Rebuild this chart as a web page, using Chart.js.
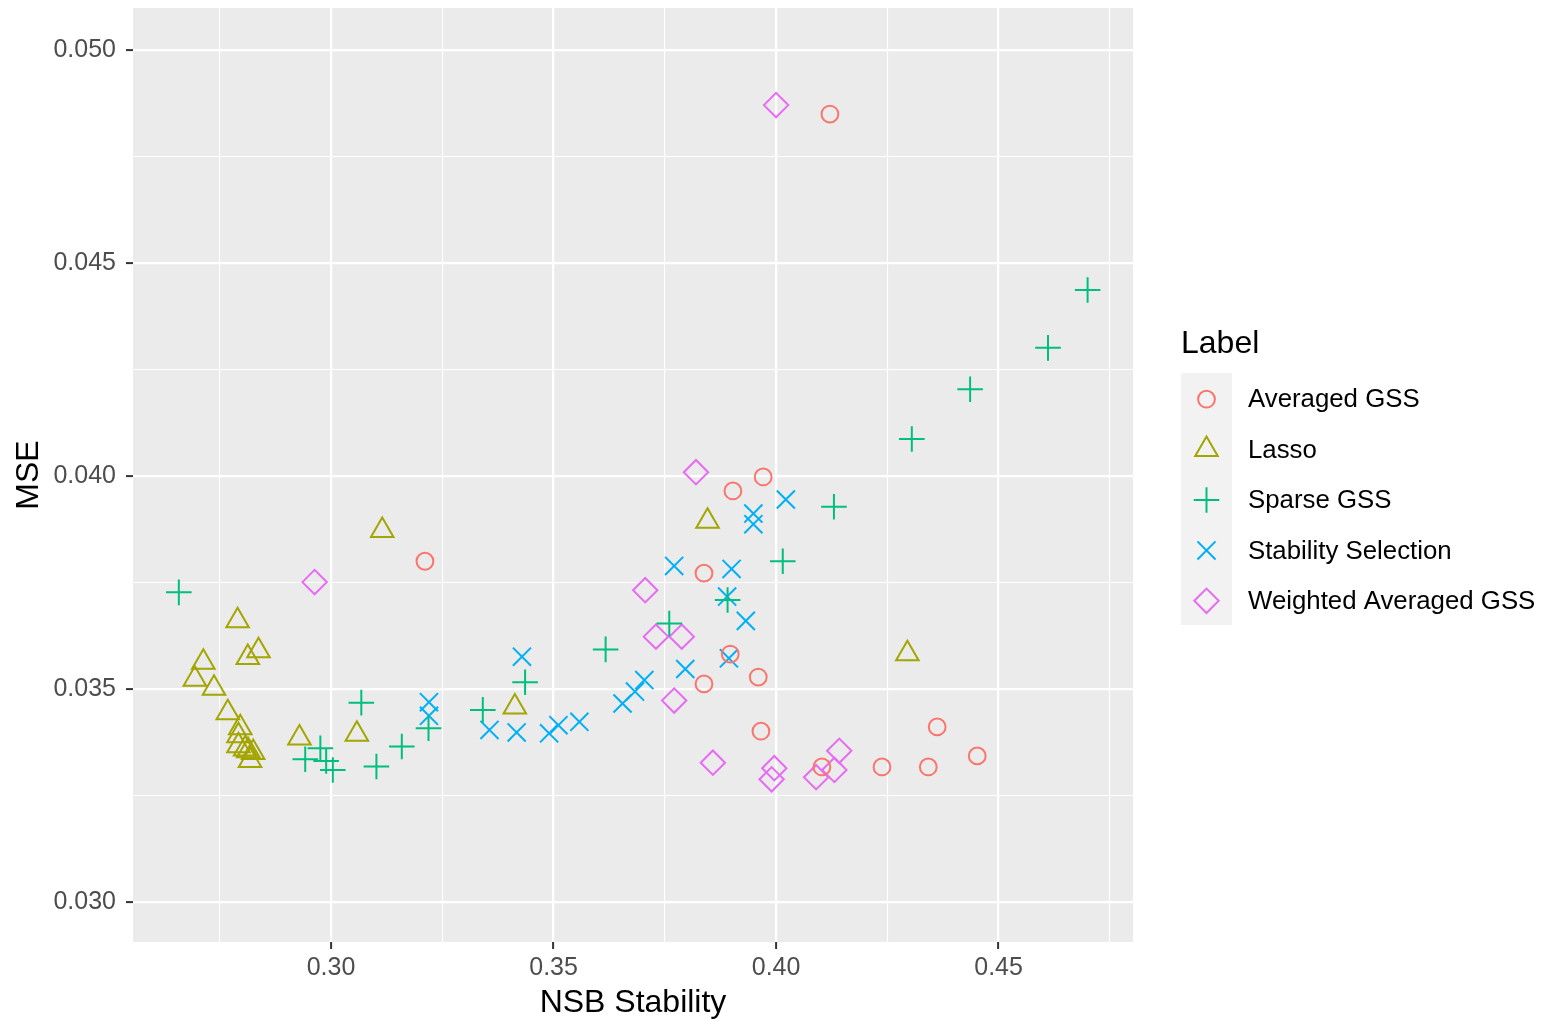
<!DOCTYPE html>
<html>
<head>
<meta charset="utf-8">
<script src="https://cdn.jsdelivr.net/npm/chart.js@4.4.1/dist/chart.umd.min.js"></script>
<style>
  html, body { margin: 0; padding: 0; background: #ffffff; }
  #wrap { width: 1547px; height: 1021px; }
</style>
</head>
<body>
<div id="wrap"><canvas id="plot" width="1547" height="1021"></canvas></div>
<script>
const FONT = "'Liberation Sans', Arial, Helvetica, sans-serif";

// NSB stability (x) and MSE (y) per method
const averagedX = [0.4121, 0.3211, 0.3971, 0.3903, 0.3838, 0.3897, 0.3838, 0.3960, 0.3966, 0.4103, 0.4238, 0.4342, 0.4362, 0.4452];
const averagedY = [0.04850, 0.03800, 0.03998, 0.03965, 0.03772, 0.03582, 0.03512, 0.03528, 0.03401, 0.03317, 0.03317, 0.03317, 0.03411, 0.03343];

const lassoX = [0.3115, 0.2790, 0.2713, 0.2694, 0.2737, 0.2813, 0.2837, 0.2768, 0.2929, 0.3058,
                0.2796, 0.2792, 0.2792, 0.2807, 0.2814, 0.2825, 0.2818, 0.3846, 0.3413, 0.4295];
const lassoY = [0.03872, 0.03660, 0.03563, 0.03523, 0.03502, 0.03574, 0.03590, 0.03444, 0.03385, 0.03394,
                0.03409, 0.03390, 0.03367, 0.03359, 0.03355, 0.03351, 0.03332, 0.03894, 0.03458, 0.03583];

const sparseX = [0.2658, 0.3068, 0.2942, 0.2976, 0.2989, 0.3004, 0.3102, 0.3159, 0.3219, 0.3341,
                 0.3436, 0.3617, 0.3760, 0.3891, 0.4015, 0.4130, 0.4305, 0.4436, 0.4611, 0.4700];
const sparseY = [0.03727, 0.03468, 0.03335, 0.03361, 0.03331, 0.03310, 0.03318, 0.03365, 0.03408, 0.03451,
                 0.03516, 0.03593, 0.03654, 0.03709, 0.03800, 0.03928, 0.04087, 0.04204, 0.04301, 0.04437];

const stabilityX = [0.3220, 0.3220, 0.3429, 0.3356, 0.3417, 0.3490, 0.3511, 0.3558, 0.3655, 0.3683,
                    0.3704, 0.3796, 0.3771, 0.3900, 0.3890, 0.3932, 0.3894, 0.3949, 0.3949, 0.4022];
const stabilityY = [0.03469, 0.03437, 0.03576, 0.03404, 0.03398, 0.03396, 0.03415, 0.03423, 0.03466, 0.03494,
                    0.03521, 0.03547, 0.03789, 0.03782, 0.03717, 0.03660, 0.03572, 0.03912, 0.03887, 0.03945];

const weightedX = [0.4000, 0.2963, 0.3820, 0.3706, 0.3730, 0.3788, 0.3771, 0.3858, 0.3996, 0.3990, 0.4090, 0.4131, 0.4142];
const weightedY = [0.04871, 0.03751, 0.04009, 0.03732, 0.03623, 0.03623, 0.03473, 0.03327, 0.03314, 0.03288, 0.03293, 0.03310, 0.03355];

const seriesLabels = ['Averaged GSS', 'Lasso', 'Sparse GSS', 'Stability Selection', 'Weighted Averaged GSS'];

const xTickLabels = ['0.30', '0.35', '0.40', '0.45'];
const xMinorTicks = [0.275, 0.325, 0.375, 0.425, 0.475];
const yTickLabels = ['0.030', '0.035', '0.040', '0.045', '0.050'];
const yMinorTicks = [0.0325, 0.0375, 0.0425, 0.0475];

const X_MIN = 0.2555, X_MAX = 0.4802;
const Y_MIN = 0.02906, Y_MAX = 0.05099;

// ggplot default hue palette + shapes
const styles = [
  { color: '#F8766D', shape: 'circle',   radius: 8.4 },
  { color: '#A3A500', shape: 'triangle', radius: 13 },
  { color: '#00BF7D', shape: 'cross',    radius: 12.8 },
  { color: '#00B0F6', shape: 'crossRot', radius: 12.8 },
  { color: '#E76BF3', shape: 'rectRot',  radius: 12.2 },
];

function zipPoints(xs, ys) {
  return xs.map((x, i) => ({ x, y: ys[i] }));
}

const seriesData = [
  zipPoints(averagedX, averagedY),
  zipPoints(lassoX, lassoY),
  zipPoints(sparseX, sparseY),
  zipPoints(stabilityX, stabilityY),
  zipPoints(weightedX, weightedY),
];

function buildTicks(labels, minor) {
  const major = labels.map(t => ({ value: parseFloat(t), text: t }));
  const rest = minor.map(v => ({ value: v, text: '' }));
  return major.concat(rest).sort((a, b) => a.value - b.value);
}

const isMajor = ctx => !!(ctx.tick && ctx.tick.text);

const panelBackground = {
  id: 'panelBackground',
  beforeDraw(chart) {
    const { ctx, chartArea: a } = chart;
    ctx.save();
    ctx.fillStyle = '#EBEBEB';
    ctx.fillRect(a.left, a.top, a.right - a.left, a.bottom - a.top);
    ctx.restore();
  }
};

// legend drawn ggplot-style: title, grey key column, labels
const sideLegend = {
  id: 'sideLegend',
  afterDraw(chart) {
    const { ctx } = chart;
    const left = 1181, keyW = 51, keyTop = 373, keyH = 50.4;
    ctx.save();
    ctx.fillStyle = '#000000';
    ctx.font = `32px ${FONT}`;
    ctx.textBaseline = 'middle';
    ctx.textAlign = 'left';
    ctx.fillText('Label', left, 344);

    ctx.fillStyle = '#F2F2F2';
    ctx.fillRect(left, keyTop, keyW, keyH * chart.data.datasets.length);

    chart.data.datasets.forEach((ds, i) => {
      const cy = keyTop + keyH * (i + 0.5);
      ctx.strokeStyle = ds.borderColor;
      ctx.fillStyle = 'rgba(0,0,0,0)';
      ctx.lineWidth = ds.pointBorderWidth;
      Chart.helpers.drawPoint(ctx, {
        pointStyle: ds.pointStyle, radius: ds.pointRadius, rotation: 0, borderWidth: ds.pointBorderWidth
      }, left + keyW / 2, cy + 1);
      ctx.fillStyle = '#000000';
      ctx.font = `25.8px ${FONT}`;
      ctx.fillText(ds.label, 1248, cy + 2);
    });
    ctx.restore();
  }
};

const gridOpts = {
  color: '#FFFFFF',
  lineWidth: ctx => isMajor(ctx) ? 2.2 : 1.1,
  tickColor: ctx => isMajor(ctx) ? '#333333' : 'rgba(0,0,0,0)',
  tickWidth: 2,
  tickLength: 7,
  drawTicks: true,
};

new Chart(document.getElementById('plot'), {
  type: 'scatter',
  data: {
    datasets: seriesData.map((pts, i) => ({
      label: seriesLabels[i],
      data: pts,
      pointStyle: styles[i].shape,
      pointRadius: styles[i].radius,
      pointHoverRadius: styles[i].radius,
      pointBorderWidth: 2,
      borderColor: styles[i].color,
      backgroundColor: 'rgba(0,0,0,0)',
    })),
  },
  options: {
    responsive: false,
    animation: false,
    events: [],
    layout: { autoPadding: false, padding: { left: 0, right: 414, top: 8, bottom: 0 } },
    plugins: {
      legend: { display: false },
      tooltip: { enabled: false },
    },
    scales: {
      x: {
        type: 'linear',
        min: X_MIN,
        max: X_MAX,
        afterBuildTicks: axis => { axis.ticks = buildTicks(xTickLabels, xMinorTicks); },
        afterFit: axis => { axis.height = 79; axis.paddingLeft = 0; axis.paddingRight = 0; },
        grid: gridOpts,
        border: { display: false },
        ticks: {
          autoSkip: false,
          maxRotation: 0,
          padding: 4,
          color: '#4D4D4D',
          font: { family: FONT, size: 25 },
          callback: (v, i, ticks) => ticks[i].text,
        },
        title: {
          display: true,
          text: 'NSB Stability',
          color: '#000000',
          font: { family: FONT, size: 32, lineHeight: 1 },
          padding: { top: 0, bottom: 2 },
        },
      },
      y: {
        type: 'linear',
        min: Y_MIN,
        max: Y_MAX,
        afterBuildTicks: axis => { axis.ticks = buildTicks(yTickLabels, yMinorTicks); },
        afterFit: axis => { axis.width = 133; axis.paddingTop = 0; axis.paddingBottom = 0; },
        grid: gridOpts,
        border: { display: false },
        ticks: {
          autoSkip: false,
          padding: 10,
          color: '#4D4D4D',
          font: { family: FONT, size: 25 },
          callback: (v, i, ticks) => ticks[i].text,
        },
        title: {
          display: true,
          text: 'MSE',
          color: '#000000',
          font: { family: FONT, size: 32, lineHeight: 1 },
          padding: { top: 13, bottom: 0 },
        },
      },
    },
  },
  plugins: [panelBackground, sideLegend],
});
</script>
</body>
</html>
